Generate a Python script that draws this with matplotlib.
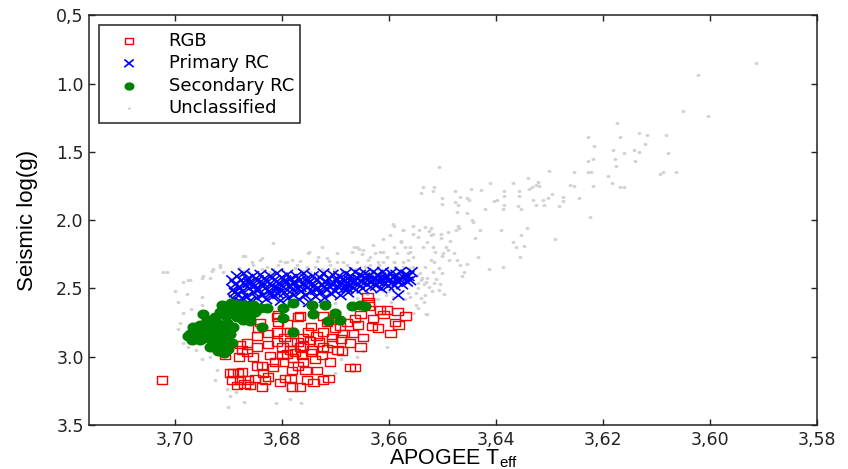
import numpy as np
import matplotlib
matplotlib.use('Agg')
import matplotlib.pyplot as plt
from matplotlib.path import Path

plt.rcParams['font.family'] = ['DejaVu Sans']
plt.rcParams['mathtext.fontset'] = 'custom'
plt.rcParams['mathtext.rm'] = 'Liberation Sans'
plt.rcParams['mathtext.it'] = 'Liberation Sans'

# red giant branch (teff, logg)
rgb_teff = [3.7024, 3.6906, 3.6897, 3.6891, 3.6882, 3.6874, 3.6893, 3.6884, 3.6878, 3.6863,
            3.6859, 3.6874, 3.6878, 3.6865, 3.6865, 3.6846, 3.6846, 3.6854, 3.6846, 3.6837,
            3.6835, 3.6831, 3.6837, 3.6826, 3.6844, 3.6841, 3.6826, 3.6826, 3.6822, 3.6816,
            3.6813, 3.6807, 3.6807, 3.6809, 3.6799, 3.6799, 3.6798, 3.6803, 3.6784, 3.6781,
            3.6779, 3.6784, 3.6784, 3.6784, 3.6771, 3.6770, 3.6766, 3.6762, 3.6760, 3.6756,
            3.6751, 3.6747, 3.6753, 3.6741, 3.6743, 3.6738, 3.6734, 3.6725, 3.6723, 3.6723,
            3.6723, 3.6713, 3.6710, 3.6715, 3.6706, 3.6700, 3.6700, 3.6706, 3.6696, 3.6687,
            3.6691, 3.6685, 3.6678, 3.6672, 3.6663, 3.6672, 3.6668, 3.6663, 3.6653, 3.6653,
            3.6648, 3.6640, 3.6638, 3.6631, 3.6629, 3.6620, 3.6616, 3.6610, 3.6603, 3.6597,
            3.6588, 3.6584, 3.6569, 3.6582, 3.6657, 3.6760, 3.6809, 3.6766, 3.6781, 3.6794,
            3.6809, 3.6766, 3.6723, 3.6775, 3.6760, 3.6745, 3.6790, 3.6730, 3.6715, 3.6770,
            3.6850, 3.6870, 3.6795, 3.6735, 3.6690, 3.6705, 3.6745, 3.6880, 3.6790, 3.6638]
rgb_logg = [3.17, 2.99, 3.12, 3.12, 3.12, 3.11, 3.17, 3.21, 3.17, 3.17,
            3.21, 2.95, 2.91, 2.97, 2.90, 2.85, 2.93, 3.00, 3.07, 3.07,
            3.12, 3.17, 3.22, 3.15, 2.79, 2.75, 2.83, 2.91, 2.99, 3.08,
            3.04, 2.69, 2.75, 2.82, 2.93, 2.99, 3.04, 3.19, 3.16, 3.10,
            3.01, 2.95, 2.89, 2.82, 2.89, 2.71, 2.93, 2.99, 3.04, 3.10,
            2.82, 2.88, 3.17, 3.19, 2.95, 3.02, 3.10, 2.99, 2.93, 2.82,
            3.17, 3.16, 3.04, 2.75, 2.86, 2.69, 2.79, 2.90, 2.95, 2.96,
            2.78, 2.83, 2.75, 3.08, 3.08, 2.90, 2.83, 2.72, 2.93, 2.69,
            2.86, 2.56, 2.63, 2.78, 2.72, 2.79, 2.66, 2.69, 2.66, 2.83,
            2.75, 2.67, 2.70, 2.77, 2.77, 2.86, 2.89, 3.22, 3.22, 3.16,
            2.71, 2.70, 2.70, 2.97, 2.92, 2.97, 2.98, 2.89, 2.94, 3.07,
            3.16, 3.20, 2.86, 2.85, 2.87, 2.72, 2.78, 3.00, 2.76, 2.60]

# primary red clump, (teff, logg) pairs
prc_points = [
    (3.6893, 2.44), (3.6891, 2.51), (3.6889, 2.58), (3.6887, 2.47), (3.6884, 2.41),
    (3.6883, 2.54), (3.6880, 2.49), (3.6877, 2.60), (3.6876, 2.44), (3.6873, 2.52),
    (3.6871, 2.39), (3.6869, 2.47), (3.6866, 2.56), (3.6864, 2.43), (3.6861, 2.50),
    (3.6859, 2.59), (3.6857, 2.46), (3.6854, 2.41), (3.6852, 2.53), (3.6850, 2.48),
    (3.6847, 2.57), (3.6845, 2.44), (3.6843, 2.51), (3.6840, 2.40), (3.6838, 2.47),
    (3.6836, 2.55), (3.6833, 2.43), (3.6831, 2.50), (3.6829, 2.58), (3.6826, 2.45),
    (3.6824, 2.52), (3.6821, 2.41), (3.6819, 2.48), (3.6817, 2.56), (3.6814, 2.44),
    (3.6812, 2.50), (3.6809, 2.39), (3.6807, 2.54), (3.6805, 2.46), (3.6802, 2.59),
    (3.6800, 2.42), (3.6797, 2.49), (3.6795, 2.53), (3.6792, 2.45), (3.6790, 2.40),
    (3.6788, 2.57), (3.6785, 2.48), (3.6783, 2.43), (3.6780, 2.51), (3.6778, 2.55),
    (3.6776, 2.46), (3.6773, 2.41), (3.6771, 2.50), (3.6768, 2.58), (3.6766, 2.44),
    (3.6763, 2.52), (3.6761, 2.47), (3.6759, 2.39), (3.6756, 2.55), (3.6754, 2.43),
    (3.6751, 2.49), (3.6749, 2.60), (3.6747, 2.45), (3.6744, 2.52), (3.6742, 2.41),
    (3.6739, 2.48), (3.6737, 2.56), (3.6734, 2.44), (3.6732, 2.50), (3.6729, 2.42),
    (3.6727, 2.53), (3.6725, 2.47), (3.6722, 2.39), (3.6720, 2.57), (3.6717, 2.45),
    (3.6715, 2.51), (3.6712, 2.43), (3.6710, 2.49), (3.6707, 2.54), (3.6705, 2.40),
    (3.6703, 2.46), (3.6700, 2.52), (3.6698, 2.44), (3.6695, 2.49), (3.6693, 2.41),
    (3.6690, 2.55), (3.6688, 2.46), (3.6685, 2.43), (3.6683, 2.50), (3.6680, 2.39),
    (3.6678, 2.47), (3.6676, 2.53), (3.6673, 2.44), (3.6671, 2.41), (3.6668, 2.49),
    (3.6666, 2.45), (3.6663, 2.38), (3.6661, 2.51), (3.6658, 2.43), (3.6656, 2.47),
    (3.6654, 2.40), (3.6651, 2.45), (3.6649, 2.50), (3.6646, 2.42), (3.6644, 2.39),
    (3.6641, 2.47), (3.6639, 2.44), (3.6636, 2.41), (3.6634, 2.49), (3.6631, 2.45),
    (3.6629, 2.38), (3.6626, 2.43), (3.6624, 2.48), (3.6621, 2.40), (3.6619, 2.45),
    (3.6616, 2.42), (3.6614, 2.50), (3.6611, 2.38), (3.6609, 2.46), (3.6606, 2.43),
    (3.6604, 2.41), (3.6601, 2.48), (3.6599, 2.44), (3.6596, 2.39), (3.6594, 2.46),
    (3.6591, 2.42), (3.6589, 2.48), (3.6586, 2.40), (3.6584, 2.45), (3.6581, 2.43),
    (3.6578, 2.38), (3.6575, 2.47), (3.6572, 2.42), (3.6569, 2.40), (3.6566, 2.45),
    (3.6563, 2.41), (3.6560, 2.44), (3.6557, 2.38), (3.6582, 2.55), (3.6888, 2.53),
    (3.6874, 2.57), (3.6862, 2.46), (3.6848, 2.51), (3.6835, 2.46), (3.6820, 2.53),
    (3.6806, 2.50), (3.6794, 2.44), (3.6779, 2.46), (3.6765, 2.49), (3.6750, 2.46),
    (3.6736, 2.51), (3.6721, 2.49), (3.6706, 2.47), (3.6692, 2.47), (3.6677, 2.50),
]

# secondary red clump
src_teff = [3.6948, 3.6953, 3.6972, 3.6968, 3.6953, 3.6938, 3.6929, 3.6921, 3.6916, 3.6903,
            3.6893, 3.6912, 3.6897, 3.6882, 3.6865, 3.6854, 3.6841, 3.6828, 3.6884, 3.6873,
            3.6859, 3.6903, 3.6921, 3.6931, 3.6910, 3.6897, 3.6837, 3.6798, 3.6798, 3.6779,
            3.6779, 3.6743, 3.6741, 3.6719, 3.6700, 3.6713, 3.6691, 3.6668, 3.6653, 3.6644,
            3.6959, 3.6966, 3.6940, 3.6891, 3.6919, 3.6912, 3.6897, 3.6929, 3.6976, 3.6905,
            3.6890, 3.6875, 3.6915, 3.6925, 3.6935, 3.6945, 3.6925, 3.6905, 3.6915, 3.6900,
            3.6935, 3.6960, 3.6945, 3.6880, 3.6860, 3.6850, 3.6905, 3.6895, 3.6870, 3.6920,
            3.6908]
src_logg = [2.69, 2.77, 2.83, 2.88, 2.88, 2.82, 2.86, 2.91, 2.95, 2.88,
            2.90, 2.62, 2.66, 2.64, 2.66, 2.62, 2.64, 2.64, 2.71, 2.73,
            2.74, 2.75, 2.75, 2.79, 2.80, 2.83, 2.78, 2.64, 2.72, 2.61,
            2.82, 2.62, 2.69, 2.62, 2.68, 2.74, 2.73, 2.63, 2.62, 2.63,
            2.83, 2.78, 2.73, 2.78, 2.83, 2.89, 2.91, 2.90, 2.85, 2.70,
            2.68, 2.67, 2.67, 2.71, 2.77, 2.80, 2.85, 2.86, 2.92, 2.94,
            2.93, 2.86, 2.86, 2.62, 2.70, 2.67, 2.64, 2.61, 2.62, 2.96,
            2.97]

# unclassified stars
unc_teff = [3.5913, 3.6022, 3.6050, 3.6003, 3.6174, 3.6228, 3.6168, 3.6132, 3.6117, 3.6082,
            3.6121, 3.6217, 3.6181, 3.6160, 3.6142, 3.6132, 3.6078, 3.6228, 3.6219, 3.6177,
            3.6140, 3.6175, 3.6507, 3.6254, 3.6228, 3.6222, 3.6301, 3.6190, 3.6087, 3.6063,
            3.6093, 3.6340, 3.6410, 3.6368, 3.6322, 3.6262, 3.6254, 3.6219, 3.6183, 3.6168,
            3.6160, 3.6537, 3.6516, 3.6477, 3.6447, 3.6428, 3.6385, 3.6356, 3.6337, 3.6332,
            3.6325, 3.6320, 3.6295, 3.6275, 3.6245, 3.6500, 3.6453, 3.6466, 3.6397, 3.6384,
            3.6356, 3.6331, 3.6312, 3.6303, 3.6275, 3.6477, 3.6470, 3.6451, 3.6404, 3.6385,
            3.6358, 3.6352, 3.6324, 3.6309, 3.6281, 3.6421, 3.6472, 3.6453, 3.6387, 3.6224,
            3.6442, 3.6593, 3.6573, 3.6554, 3.6533, 3.6524, 3.6503, 3.6490, 3.6475, 3.6470,
            3.6468, 3.6444, 3.6430, 3.6391, 3.6342, 3.6352, 3.6290, 3.6367, 3.6363, 3.6348,
            3.6355, 3.6387, 3.6413, 3.6464, 3.6507, 3.6496, 3.6533, 3.6530, 3.6546, 3.6554,
            3.6438, 3.6610, 3.6591, 3.6578, 3.6569, 3.6560, 3.6554, 3.6537, 3.6528, 3.6518,
            3.6513, 3.6522, 3.6532, 3.6541, 3.6528, 3.6518, 3.6498, 3.6490, 3.6479, 3.6472,
            3.6466, 3.6453, 3.6460, 3.6434, 3.6507, 3.6500, 3.6494, 3.6584, 3.6565, 3.6554,
            3.6629, 3.6648, 3.6616, 3.6603, 3.6638, 3.6621, 3.6591, 3.6573, 3.6545, 3.6535,
            3.6550, 3.6565, 3.6573, 3.6545, 3.6518, 3.6554, 3.6522, 3.6560, 3.6535, 3.6550,
            3.6528, 3.6554, 3.6816, 3.6869, 3.6916, 3.6929, 3.6972, 3.6950, 3.6934, 3.6910,
            3.6854, 3.6841, 3.6803, 3.6790, 3.6828, 3.6816, 3.6781, 3.6751, 3.6732, 3.6715,
            3.6734, 3.6696, 3.6668, 3.6659, 3.6650, 3.6635, 3.6625, 3.6610, 3.6597, 3.6591,
            3.6578, 3.6565, 3.6560, 3.6573, 3.6771, 3.6753, 3.6710, 3.6685, 3.6659, 3.6635,
            3.6610, 3.6591, 3.6949, 3.6985, 3.7022, 3.6659, 3.6640, 3.6620, 3.6605, 3.6595,
            3.6630, 3.6897, 3.6903, 3.6885, 3.6859, 3.6828, 3.6790, 3.6925, 3.6921, 3.6978,
            3.6949, 3.6900, 3.6870, 3.6810, 3.6785, 3.6765, 3.6603, 3.6648, 3.6660, 3.6690,
            3.6700, 3.6985, 3.6960, 3.6935, 3.6990, 3.6970, 3.6995, 3.7000, 3.6870, 3.6845,
            3.6800, 3.6760, 3.6725, 3.6700, 3.6670, 3.6650, 3.6620, 3.6600, 3.6580, 3.6560,
            3.6540, 3.6525, 3.6515, 3.6600, 3.6570]
unc_logg = [0.85, 0.94, 1.20, 1.24, 1.29, 1.39, 1.39, 1.36, 1.38, 1.38,
            1.44, 1.46, 1.49, 1.51, 1.49, 1.50, 1.51, 1.57, 1.55, 1.55,
            1.57, 1.60, 1.61, 1.65, 1.65, 1.65, 1.64, 1.68, 1.65, 1.65,
            1.66, 1.69, 1.73, 1.73, 1.72, 1.74, 1.75, 1.75, 1.73, 1.76,
            1.76, 1.76, 1.76, 1.79, 1.77, 1.78, 1.79, 1.79, 1.77, 1.76,
            1.74, 1.75, 1.81, 1.83, 1.84, 1.84, 1.84, 1.83, 1.85, 1.82,
            1.82, 1.85, 1.85, 1.84, 1.86, 1.87, 1.89, 1.85, 1.86, 1.89,
            1.90, 1.92, 1.89, 1.89, 1.90, 1.92, 1.94, 1.95, 1.92, 1.98,
            2.01, 2.03, 2.07, 2.10, 2.05, 2.08, 2.10, 2.09, 2.07, 2.04,
            2.06, 2.00, 2.07, 2.07, 2.06, 2.11, 2.14, 2.16, 2.20, 2.19,
            2.27, 2.34, 2.36, 2.41, 2.51, 2.54, 2.55, 2.69, 2.64, 2.68,
            2.13, 2.14, 2.20, 2.16, 2.20, 2.23, 2.27, 2.20, 2.16, 2.20,
            2.23, 2.29, 2.34, 2.39, 2.42, 2.38, 2.24, 2.22, 2.24, 2.29,
            2.33, 2.32, 2.38, 2.27, 2.35, 2.39, 2.20, 2.24, 2.29, 2.34,
            2.18, 2.22, 2.23, 2.27, 2.29, 2.31, 2.31, 2.34, 2.46, 2.47,
            2.53, 2.53, 2.07, 2.12, 2.10, 2.04, 2.06, 2.56, 2.60, 2.62,
            2.69, 2.68, 2.17, 2.26, 2.33, 2.36, 2.44, 2.42, 2.42, 2.38,
            2.33, 2.29, 2.30, 2.31, 2.34, 2.36, 2.29, 2.24, 2.27, 2.28,
            2.30, 2.24, 2.23, 2.20, 2.25, 2.27, 2.24, 2.23, 2.11, 2.04,
            2.15, 2.24, 2.20, 2.31, 2.33, 2.34, 2.33, 2.31, 2.31, 2.33,
            2.31, 2.31, 2.56, 2.45, 2.38, 2.57, 2.54, 2.58, 2.55, 2.60,
            2.50, 3.29, 3.24, 3.26, 3.24, 3.24, 3.24, 3.17, 3.10, 2.54,
            2.62, 3.37, 3.33, 3.34, 3.31, 3.34, 2.93, 2.96, 3.00, 3.02,
            3.12, 2.90, 2.95, 3.00, 2.75, 2.65, 2.60, 2.52, 2.37, 2.38,
            2.36, 2.37, 2.36, 2.38, 2.35, 2.37, 2.36, 2.39, 2.38, 2.42,
            2.44, 2.49, 2.46, 2.52, 2.58]

# more unclassified stars in the cloud just above and right of the clump
unc_extra = [
    (3.7015, 2.38), (3.6976, 2.44), (3.6948, 2.41), (3.6931, 2.37), (3.6916, 2.34),
    (3.6873, 2.26), (3.6837, 2.28), (3.6794, 2.31), (3.6750, 2.23), (3.6725, 2.20),
    (3.6696, 2.31), (3.6666, 2.20), (3.6655, 2.21), (3.6880, 2.35), (3.6862, 2.38),
    (3.6855, 2.31), (3.6838, 2.36), (3.6822, 2.38), (3.6808, 2.33), (3.6797, 2.37),
    (3.6776, 2.35), (3.6766, 2.30), (3.6748, 2.38), (3.6738, 2.34), (3.6722, 2.37),
    (3.6712, 2.30), (3.6702, 2.36), (3.6688, 2.37), (3.6678, 2.33), (3.6662, 2.36),
    (3.6645, 2.34), (3.6632, 2.37), (3.6618, 2.33), (3.6603, 2.36), (3.6588, 2.34),
    (3.6575, 2.37), (3.6562, 2.35), (3.6548, 2.40), (3.6538, 2.42), (3.6530, 2.45),
    (3.6545, 2.50), (3.6520, 2.52), (3.6512, 2.43), (3.6505, 2.47), (3.6540, 2.57),
    (3.6515, 2.31), (3.6500, 2.26), (3.6488, 2.29), (3.6543, 2.07), (3.6522, 2.11),
    (3.6502, 2.13), (3.6485, 2.15), (3.6540, 1.80), (3.6518, 1.79), (3.6500, 1.88),
    (3.6625, 2.58), (3.6645, 2.60), (3.6610, 2.52), (3.6592, 2.56), (3.6760, 2.62),
    (3.6700, 2.61), (3.6985, 2.68), (3.6995, 2.80), (3.6975, 2.93), (3.6950, 3.02),
]

xticks = [3.70, 3.68, 3.66, 3.64, 3.62, 3.60, 3.58]
xticklabels = ['3,70', '3,68', '3,66', '3,64', '3,62', '3,60', '3,58']
yticks = [0.5, 1.0, 1.5, 2.0, 2.5, 3.0, 3.5]
yticklabels = ['0,5', '1.0', '1.5', '2.0', '2.5', '3.0', '3.5']

prc_teff = [p[0] for p in prc_points]
prc_logg = [p[1] for p in prc_points]
unc_teff = unc_teff + [p[0] for p in unc_extra]
unc_logg = unc_logg + [p[1] for p in unc_extra]

# the source picture is stretched sideways, so the markers are a bit wider than tall
rect = [(-1.35, -1), (1.35, -1), (1.35, 1), (-1.35, 1), (-1.35, -1)]
cross = Path([(-1.2, -1), (1.2, 1), (-1.2, 1), (1.2, -1)],
             [Path.MOVETO, Path.LINETO, Path.MOVETO, Path.LINETO])
t = np.linspace(0, 2 * np.pi, 40)
ellipse = list(zip(1.25 * np.cos(t), np.sin(t)))

fig = plt.figure(figsize=(8.48, 4.69), dpi=100)
ax = fig.add_axes([0.1053, 0.0938, 0.8578, 0.8736])

ax.scatter(rgb_teff, rgb_logg, marker=rect, s=55, facecolors='none',
           edgecolors='red', linewidths=1.0, label='RGB', zorder=3)
ax.scatter(prc_teff, prc_logg, marker=cross, s=70, facecolors='none',
           edgecolors='blue', linewidths=1.2, label='Primary RC', zorder=2)
ax.scatter(src_teff, src_logg, marker=ellipse, s=60, color='green',
           edgecolors='green', label='Secondary RC', zorder=4)
ax.scatter(unc_teff, unc_logg, marker=ellipse, s=8, color='#d2d2d2',
           linewidths=0, label='Unclassified', zorder=1)

ax.set_xlim(3.716, 3.58)
ax.set_ylim(3.5, 0.5)
ax.set_xticks(xticks)
ax.set_xticklabels(xticklabels)
ax.set_yticks(yticks)
ax.set_yticklabels(yticklabels)
ax.tick_params(direction='in', top=True, right=True, length=4, width=1,
               labelsize=12.5, colors='#222222', pad=4)
for sp in ax.spines.values():
    sp.set_linewidth(1.1)
    sp.set_color('#222222')

ax.set_xlabel(r'APOGEE T$_{\rm eff}$', fontsize=15.5, family='Liberation Sans')
ax.set_ylabel('Seismic log(g)', fontsize=16, family='Liberation Sans')
ax.xaxis.set_label_coords(0.5, -0.054)
ax.yaxis.set_label_coords(-0.07, 0.5)

leg = ax.legend(loc='upper left', fontsize=13, scatterpoints=1, markerscale=0.8,
                handlelength=2.6, handletextpad=0.9, labelspacing=0.25,
                borderpad=0.35, borderaxespad=0.55, fancybox=False, framealpha=1)
leg.get_frame().set_edgecolor('#222222')
leg.get_frame().set_linewidth(1.1)

fig.savefig('out.png', dpi=100)
